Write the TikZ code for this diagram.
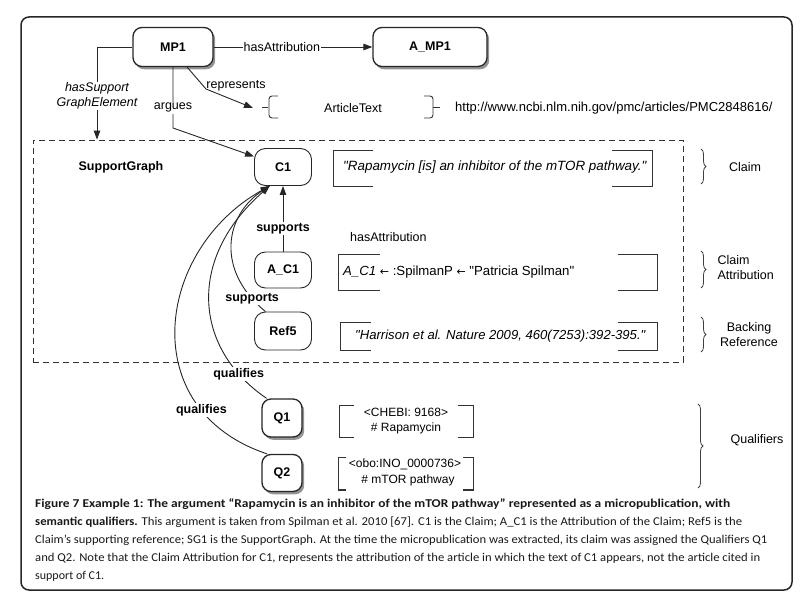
\documentclass[tikz,border=0pt]{standalone}
\usepackage{fontspec}
\setmainfont{Liberation Sans}[Ligatures=TeXOff]
\newfontfamily\capfont{Carlito}
\newfontfamily\arrfont{DejaVu Sans}
\usetikzlibrary{arrows.meta,shadows,decorations.pathreplacing}
\begin{document}
\begin{tikzpicture}[x=1pt,y=-1pt]
\tikzset{
 fn/.style={font=\fontsize{12.5}{15}\selectfont},
 fb/.style={font=\fontsize{12.5}{15}\selectfont\bfseries},
 fi/.style={font=\fontsize{12.5}{15}\selectfont\itshape},
 fs/.style={font=\fontsize{12}{13}\selectfont},
 shbox/.style={draw=black!85, line width=1.3pt, rounded corners=9pt, fill=white, fb, inner sep=0pt,
   drop shadow={shadow xshift=2.2pt, shadow yshift=-2.8pt, fill=black!70, opacity=0.6}},
 rbox/.style={draw=black!85, line width=0.9pt, rounded corners=11pt, fill=white, fb, inner sep=0pt},
 arr/.style={draw=black!85, line width=0.9pt, -{Triangle[length=9pt,width=6.5pt]}},
 lbl/.style={fill=white, inner sep=1pt},
 brk/.style={draw=black!80, line width=0.9pt},
 brc/.style={draw=black!75, line width=0.8pt, decorate, decoration={brace, amplitude=5pt}},
 captxt/.style={font=\capfont\fontsize{12}{13}\selectfont, inner sep=0pt, text=black!90},
}
\useasboundingbox (0,0) rectangle (802,607);
% outer frame
\draw[line width=1.5pt, black!85, rounded corners=8pt] (21,17) rectangle (792,590);

% dashed support graph box
\node[draw=black!80, line width=0.9pt, dash pattern=on 6pt off 4pt, minimum width=650pt, minimum height=222pt, inner sep=0pt] (SG) at (358,251) {};
\node[fb] (sgl) at (121,167) {SupportGraph};

% main nodes
\node[shbox, minimum width=80pt, minimum height=39pt] (MP1) at (173,47) {MP1};
\node[shbox, minimum width=114pt, minimum height=39pt] (AMP1) at (430,47) {A\_MP1};
\node[rbox, minimum width=57pt, minimum height=37pt] (C1) at (283,167) {C1};
\node[rbox, minimum width=57pt, minimum height=36pt] (AC1) at (283,270) {A\_C1};
\node[rbox, minimum width=57pt, minimum height=38pt] (Ref5) at (283,331) {Ref5};
\node[shbox, minimum width=40pt, minimum height=38pt] (Q1) at (282,418) {Q1};
\node[shbox, minimum width=40pt, minimum height=37pt] (Q2) at (282,473) {Q2};

% article text line
\node[fn] (art) at (353,108) {ArticleText};
\draw[brk] (262,107) -- (268,107);
\draw[brk, rounded corners=3pt] (278,96) -- (269,96) -- (269,118) -- (278,118);
\draw[brk, rounded corners=3pt] (424,96) -- (433,96) -- (433,118) -- (424,118);
\draw[brk] (433,107) -- (440,107);
\node[font=\fontsize{13}{15}\selectfont, anchor=west, inner sep=0pt] (url) at (455,108) {http://www.ncbi.nlm.nih.gov/pmc/articles/PMC2848616/};

% connectors from MP1
\draw[arr] (MP1) -- node[lbl, fn, pos=0.43] {hasAttribution} (AMP1);
\coordinate (hsg) at (97,47);
\draw[arr] (MP1.west) -- (hsg) -- node[lbl, fi, align=center, pos=0.53, inner sep=0.5pt] {hasSupport\\GraphElement} (hsg |- SG.north);
\coordinate (argK) at (173,128);
\draw[arr] (MP1.south -| argK) -- node[lbl, fn, pos=0.67] {argues} (argK) -- (C1.160);
\coordinate (repK) at (206,89);
\coordinate (repE) at (253,108);
\draw[arr] (MP1.-55) -- (repK) -- (repE);
\node[fn] (repl) at (236,86) {represents};

% claim box
\draw[brk] (373,150) -- (333,150) -- (333,186) -- (373,186);
\draw[brk] (612,150) -- (652,150) -- (652,186) -- (612,186);
\node[font=\fontsize{13.4}{15}\selectfont\itshape, anchor=west, inner sep=0pt] (claimt) at (343,167) {"Rapamycin [is] an inhibitor of the mTOR pathway."};

% attribution box
\node[fn, anchor=west, inner sep=0pt] (hasatt) at (350,237) {hasAttribution};
\draw[brk] (380,254) -- (338,254) -- (338,290) -- (380,290);
\draw[brk] (618,254) -- (657,254) -- (657,290) -- (618,290);
\node[font=\fontsize{13.2}{15}\selectfont, anchor=west, inner sep=0pt] (attt) at (343,272) {\textit{A\_C1} {\arrfont\fontsize{11}{13}\selectfont ←} :SpilmanP {\arrfont\fontsize{11}{13}\selectfont ←} "Patricia Spilman"};

% backing box
\draw[brk] (371,322) -- (340,322) -- (340,350) -- (371,350);
\draw[brk] (618,322) -- (657,322) -- (657,350) -- (618,350);
\node[font=\fontsize{13.1}{15}\selectfont\itshape, anchor=west, inner sep=0pt] (backt) at (355,336) {"Harrison et al. Nature 2009, 460(7253):392-395."};

% qualifier boxes
\draw[brk] (354,405) -- (339,405) -- (339,437) -- (354,437);
\draw[brk] (458,405) -- (473,405) -- (473,437) -- (458,437);
\node[fs] (q1a) at (406,412) {<CHEBI: 9168>};
\node[fs] (q1b) at (406,428) {\# Rapamycin};
\draw[brk] (346,457) -- (338,457) -- (338,490) -- (346,490);
\draw[brk, line width=1.6pt] (338,490) -- (346,490);
\draw[brk] (463,457) -- (473,457) -- (473,490) -- (463,490);
\draw[brk, line width=1.6pt] (463,490) -- (473,490);
\node[fs] (q2a) at (405,464) {<obo:INO\_0000736>};
\node[fs] (q2b) at (408,480) {\# mTOR pathway};

% braces and category labels
\draw[brc] (701,149) -- (701,184);
\node[fn] (clm) at (745,167) {Claim};
\draw[brc] (701,251) -- (701,288);
\node[fn, align=left, anchor=west] (clma) at (714,268) {Claim\\Attribution};
\draw[brc] (701,317) -- (701,352);
\node[fn, align=center] (bref) at (749,335) {Backing\\Reference};
\draw[brc] (698,404) -- (698,488);
\node[fn] (qual) at (757,440) {Qualifiers};

% support / qualify connectors
\draw[arr] (AC1.north) -- node[lbl, fb, pos=0.35] {supports} (C1.south);
\draw[arr] (Ref5.132) .. controls (215,270) and (225,215) .. node[lbl, fb, pos=0.1] {supports} (C1.235);
\draw[arr] (Q1.128) .. controls (195,350) and (185,260) .. node[lbl, fb, pos=0.15] {qualifies} (C1.235);
\draw[arr] (Q2.128) .. controls (135,410) and (155,250) .. node[lbl, fb, pos=0.22] {qualifies} (C1.235);

% caption
\node[captxt, anchor=base west] (cap1) at (35,507) {\resizebox{695pt}{\height}{\bfseries Figure 7 Example 1: The argument “Rapamycin is an inhibitor of the mTOR pathway” represented as a micropublication, with}};
\node[captxt, anchor=base west] (cap2) at (35,525) {\resizebox{707pt}{\height}{\textbf{semantic qualifiers.} This argument is taken from Spilman et al. 2010 [67]. C1 is the Claim; A\_C1 is the Attribution of the Claim; Ref5 is the}};
\node[captxt, anchor=base west] (cap3) at (35,543) {\resizebox{732pt}{\height}{Claim’s supporting reference; SG1 is the SupportGraph. At the time the micropublication was extracted, its claim was assigned the Qualifiers Q1}};
\node[captxt, anchor=base west] (cap4) at (35,561) {\resizebox{725pt}{\height}{and Q2. Note that the Claim Attribution for C1, represents the attribution of the article in which the text of C1 appears, not the article cited in}};
\node[captxt, anchor=base west] (cap5) at (35,579) {support of C1.};
\end{tikzpicture}
\end{document}
